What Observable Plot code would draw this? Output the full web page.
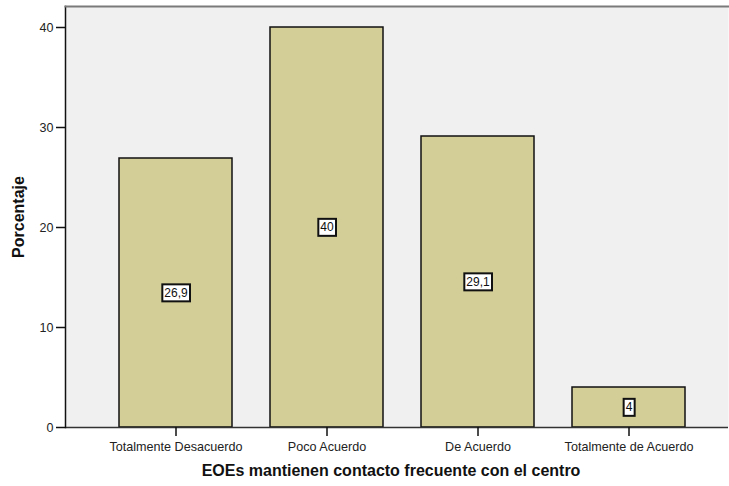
<!DOCTYPE html>
<html>
<head>
<meta charset="utf-8">
<script src="https://cdn.jsdelivr.net/npm/d3@7"></script>
<script src="https://cdn.jsdelivr.net/npm/@observablehq/plot@0.6"></script>
<style>
  html, body { margin: 0; padding: 0; background: #fff; }
  svg { font-family: "Liberation Sans", Arial, sans-serif; }
</style>
</head>
<body>
<div id="chart"></div>
<script>
const categories = ["Totalmente Desacuerdo", "Poco Acuerdo", "De Acuerdo", "Totalmente de Acuerdo"];
const values = [26.9, 40, 29.1, 4];
const yTicks = [0, 10, 20, 30, 40];
const xTitle = "EOEs mantienen contacto frecuente con el centro";
const yTitle = "Porcentaje";

const data = categories.map((c, i) => ({cat: c, val: values[i]}));
const fmt = v => String(v).replace(".", ",");

const W = 729, H = 486;
const plot = Plot.plot({
  width: W,
  height: H,
  marginLeft: 65,
  marginRight: 1,
  marginTop: 6,
  marginBottom: 59,
  style: {fontFamily: "Liberation Sans, Arial, sans-serif", background: "white"},
  x: {domain: categories, range: [65, 740], paddingInner: 0.25, paddingOuter: 0.35, label: null},
  y: {domain: [0, 42.1], label: null},
  marks: [
    Plot.frame({fill: "#f0f0f0", stroke: null}),
    Plot.barY(data, {x: "cat", y: "val", fill: "#d3ce97", stroke: "#111", strokeWidth: 1.5}),
    Plot.ruleY([0], {stroke: "#333", strokeWidth: 1.5}),
    Plot.frame({anchor: "left", stroke: "#111", strokeWidth: 1.5}),
    Plot.frame({anchor: "top", stroke: "#7a7a7a", strokeWidth: 2}),
    Plot.axisY({ticks: yTicks, tickSize: 9, tickPadding: 3, fontSize: 12.5, fill: "#222", stroke: "#111", strokeWidth: 1.5, label: null}),
    Plot.axisX({tickSize: 9, tickPadding: 6, fontSize: 12.6, fill: "#222", stroke: "#111", strokeWidth: 1.5, label: null}),
    Plot.text(data, {x: "cat", y: d => d.val / 2, text: d => fmt(d.val), fontSize: 12, fill: "#111", className: "vlabel"}),
    Plot.text([xTitle], {frameAnchor: "bottom", dy: 48, dx: -6, text: d => d, fontSize: 16, fontWeight: "bold", fill: "#111"}),
    Plot.text([yTitle], {frameAnchor: "left", dx: -47, textAnchor: "middle", rotate: -90, text: d => d, fontSize: 16, fontWeight: "bold", fill: "#111"})
  ]
});
document.getElementById("chart").appendChild(plot);

// add white boxes with black border behind value labels
plot.querySelectorAll("g.vlabel text").forEach(t => {
  const b = t.getBBox();
  const r = document.createElementNS("http://www.w3.org/2000/svg", "rect");
  r.setAttribute("x", b.x - 2);
  r.setAttribute("y", b.y - 1.5);
  r.setAttribute("width", b.width + 4);
  r.setAttribute("height", b.height + 3);
  r.setAttribute("fill", "white");
  r.setAttribute("stroke", "#111");
  r.setAttribute("stroke-width", 2);
  if (t.getAttribute("transform")) r.setAttribute("transform", t.getAttribute("transform"));
  t.parentNode.insertBefore(r, t);
});
</script>
</body>
</html>
